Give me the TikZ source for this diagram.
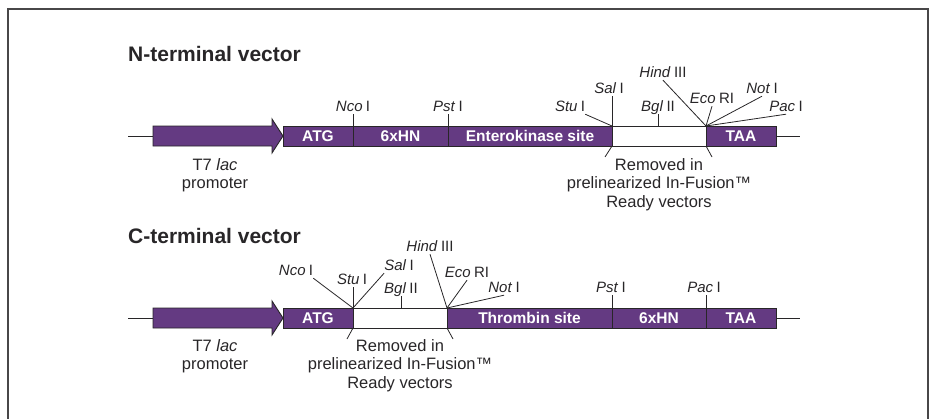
\documentclass[tikz,border=0pt]{standalone}
\usepackage{fontspec}
\setmainfont{Liberation Sans}
\usepackage{tikz}
\usetikzlibrary{positioning}
\definecolor{vecpurple}{RGB}{100,58,130}
\definecolor{inkgray}{RGB}{40,38,40}
\newcommand{\enz}[2]{\textit{#1}\hspace{0.22em}#2}

\begin{document}
\begin{tikzpicture}[x=1pt,y=-1pt]
	\tikzstyle{seg}
	  =[draw=inkgray, fill=vecpurple, rectangle, line width=0.9pt,
	  minimum height=20pt, inner sep=0pt, outer sep=0pt,
	  text=white, font=\fontsize{15.5}{18}\bfseries]
	\tikzstyle{gapbox}
	  =[seg, fill=white]
	\tikzstyle{promo}
	  =[draw=inkgray, fill=vecpurple, line width=0.9pt, line join=miter]
	\tikzstyle{site}
	  =[inner sep=0pt, text height=11pt, text depth=3pt, anchor=base,
	  text=inkgray, font=\fontsize{15}{18}\selectfont]
	\tikzstyle{note}
	  =[inner sep=0pt, align=center, anchor=base, text=inkgray,
	  font=\fontsize{16.5}{18.5}\selectfont]
	\tikzstyle{title}
	  =[inner sep=0pt, anchor=base west, text=inkgray,
	  font=\fontsize{21}{24}\bfseries]
	\tikzstyle{cut}
	  =[draw=inkgray, line width=0.8pt]
	\tikzstyle{frame}
	  =[draw=inkgray!85, line width=1.3pt]

	\useasboundingbox (0,0) rectangle (933,418);
	\draw[frame] (8,430) -- (8,9) -- (928,9) -- (928,430);

	\node[title] (ttlN)
	  at (128,61) {N-terminal vector};
	\node[seg, minimum width=70pt] (atgN)
	  at (318,136) {ATG};
	\node[seg, minimum width=95pt] (hnN)
	  [right=0pt of atgN] {6xHN};
	\node[seg, minimum width=164pt] (ekN)
	  [right=0pt of hnN] {Enterokinase site};
	\node[gapbox, minimum width=94pt] (gapN)
	  [right=0pt of ekN] {};
	\node[seg, minimum width=70pt] (taaN)
	  [right=0pt of gapN] {TAA};
	\path (atgN.west) ++(-130,0) coordinate (tailN);
	\draw[promo] (tailN) -- ++(0,-10) -- ++(119,0) -- ++(0,-7)
	  -- (atgN.west) -- ++(-11,17) -- ++(0,-7) -- ++(-119,0) -- cycle;
	\coordinate (startN) at (128,136);
	\coordinate (endN) at (800,136);
	\draw[cut] (startN) -- (tailN);
	\draw[cut] (taaN.east) -- (endN);

	\node[site] (ncoN)
	  at (353,111) {\enz{Nco}{I}};
	\node[site] (pstN)
	  at (448,111) {\enz{Pst}{I}};
	\node[site] (stuN)
	  at (570,111) {\enz{Stu}{I}};
	\node[site] (salN)
	  at (609,93) {\enz{Sal}{I}};
	\node[site] (bglN)
	  at (658,111) {\enz{Bgl}{II}};
	\node[site] (hindN)
	  at (663,77) {\enz{Hind}{III}};
	\node[site] (ecoN)
	  at (712,103) {\enz{Eco}{RI}};
	\node[site] (notN)
	  at (762,93) {\enz{Not}{I}};
	\node[site] (pacN)
	  at (786,111) {\enz{Pac}{I}};
	\draw[cut] (ncoN.south) -- (atgN.north east);
	\draw[cut] (pstN.south) -- (hnN.north east);
	\draw[cut] (stuN.south east) -- (gapN.north west);
	\draw[cut] (salN.south -| gapN.north west) -- (gapN.north west);
	\draw[cut] (bglN.south) -- (bglN.south |- gapN.north);
	\draw[cut] (hindN.south) -- (gapN.north east);
	\draw[cut] (ecoN.south) -- (gapN.north east);
	\draw[cut] (notN.south) -- (gapN.north east);
	\draw[cut] (pacN.south) -- (gapN.north east);

	\draw[cut] (gapN.south west) -- ++(-7,11);
	\draw[cut] (gapN.south east) -- ++(6,11);
	\node[note] (rmN)
	  at (659,207) {Removed in\\prelinearized In-Fusion™\\Ready vectors};
	\node[note] (t7N)
	  at (215,188.5) {T7 \textit{lac}\\promoter};

	\node[title] (ttlC)
	  at (128,243) {C-terminal vector};
	\node[seg, minimum width=70pt] (atgC)
	  at (318,318) {ATG};
	\node[gapbox, minimum width=94pt] (gapC)
	  [right=0pt of atgC] {};
	\node[seg, minimum width=165pt] (thrC)
	  [right=0pt of gapC] {Thrombin site};
	\node[seg, minimum width=94pt] (hnC)
	  [right=0pt of thrC] {6xHN};
	\node[seg, minimum width=70pt] (taaC)
	  [right=0pt of hnC] {TAA};
	\path (atgC.west) ++(-130,0) coordinate (tailC);
	\draw[promo] (tailC) -- ++(0,-10) -- ++(119,0) -- ++(0,-7)
	  -- (atgC.west) -- ++(-11,17) -- ++(0,-7) -- ++(-119,0) -- cycle;
	\coordinate (startC) at (128,318);
	\coordinate (endC) at (800,318);
	\draw[cut] (startC) -- (tailC);
	\draw[cut] (taaC.east) -- (endC);

	\node[site] (ncoC)
	  at (296,275) {\enz{Nco}{I}};
	\node[site] (stuC)
	  at (352,284) {\enz{Stu}{I}};
	\node[site] (salC)
	  at (399,270) {\enz{Sal}{I}};
	\node[site] (bglC)
	  at (401,293) {\enz{Bgl}{II}};
	\node[site] (hindC)
	  at (430,251) {\enz{Hind}{III}};
	\node[site] (ecoC)
	  at (467,277) {\enz{Eco}{RI}};
	\node[site] (notC)
	  at (504,292) {\enz{Not}{I}};
	\node[site] (pstC)
	  at (611,292) {\enz{Pst}{I}};
	\node[site] (pacC)
	  at (704,292) {\enz{Pac}{I}};
	\draw[cut] (ncoC.south east) -- (atgC.north east);
	\draw[cut] (stuC.south -| gapC.north west) -- (gapC.north west);
	\draw[cut] (salC.south west) -- (gapC.north west);
	\draw[cut] (bglC.south) -- (bglC.south |- gapC.north);
	\draw[cut] (hindC.south) -- (thrC.north west);
	\draw[cut] (ecoC.south) -- (thrC.north west);
	\draw[cut] (notC.south) -- (thrC.north west);
	\draw[cut] (pstC.south -| thrC.north east) -- (thrC.north east);
	\draw[cut] (pacC.south -| hnC.north east) -- (hnC.north east);

	\draw[cut] (gapC.south west) -- ++(-6,11);
	\draw[cut] (gapC.south east) -- ++(6,11);
	\node[note] (rmC)
	  at (400,388) {Removed in\\prelinearized In-Fusion™\\Ready vectors};
	\node[note] (t7C)
	  at (215,369.5) {T7 \textit{lac}\\promoter};
\end{tikzpicture}
\end{document}
